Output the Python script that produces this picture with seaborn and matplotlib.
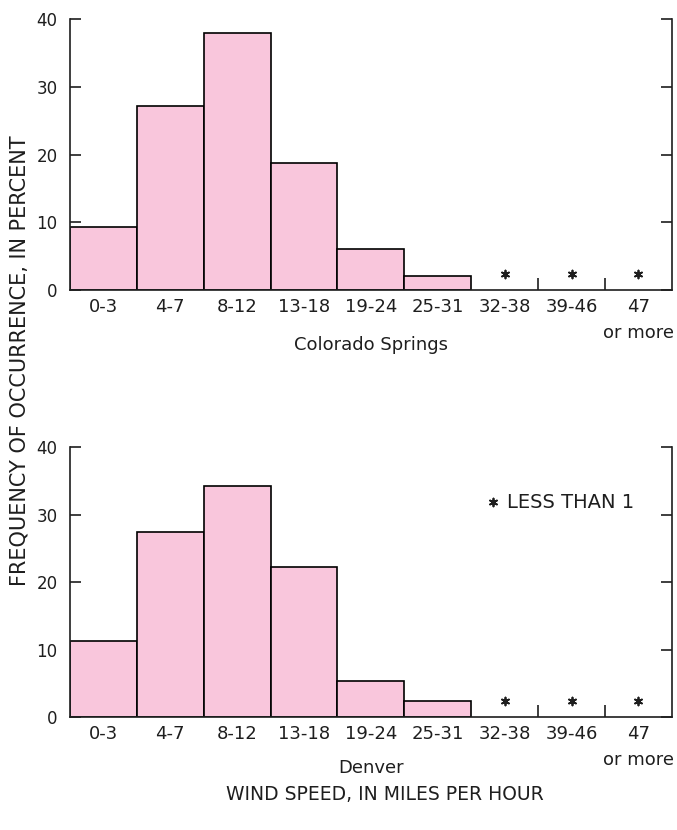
import matplotlib

matplotlib.use("Agg")

import matplotlib.pyplot as plt
import numpy as np
import pandas as pd
import seaborn as sns

# wind speed classes (mph) and percent frequency per station
wind_bins = ["0-3", "4-7", "8-12", "13-18", "19-24", "25-31", "32-38", "39-46", "47"]
bin_labels = ["0-3", "4-7", "8-12", "13-18", "19-24", "25-31", "32-38", "39-46", "47\nor more"]
colorado_springs = [9.3, 27.2, 37.9, 18.8, 6.0, 2.1, np.nan, np.nan, np.nan]
denver = [11.2, 27.4, 34.3, 22.2, 5.3, 2.4, np.nan, np.nan, np.nan]
less_than_one = ["32-38", "39-46", "47"]
y_ticks = [0, 10, 20, 30, 40]

BAR_COLOR = "#f9c6dc"
INK = "#1e1e1e"
STAR = (6, 2, 0)

sns.set_theme(style="white")
plt.rcParams["font.family"] = ["DejaVu Sans"]


def draw_panel(ax, values, station, label_y):
    data = pd.DataFrame({"bin": wind_bins, "pct": values})
    sns.barplot(
        data=data,
        x="bin",
        y="pct",
        order=wind_bins,
        width=1.0,
        color=BAR_COLOR,
        saturation=1,
        edgecolor="black",
        linewidth=1.2,
        errorbar=None,
        ax=ax,
    )

    # asterisks mark classes with less than 1 percent
    star_x = [wind_bins.index(b) for b in less_than_one]
    ax.scatter(star_x, [2.4] * len(star_x), marker=STAR, s=32, color=INK, linewidths=1.3, zorder=3)

    ax.set_xlim(-0.5, len(wind_bins) - 0.5)
    ax.set_ylim(0, 40)
    ax.set_yticks(y_ticks)
    ax.set_xticks(range(len(wind_bins)))
    ax.set_xticklabels(bin_labels, fontsize=13, color=INK)
    ax.get_xticklabels()[-1].set_linespacing(1.55)
    ax.set_yticklabels([str(t) for t in y_ticks], fontsize=12, color=INK)
    ax.set_xticks([6.5, 7.5], minor=True)

    ax.tick_params(axis="x", which="major", length=0, pad=6)
    ax.tick_params(axis="x", which="minor", direction="in", length=9, width=1.2, bottom=True, color=INK)
    ax.tick_params(axis="y", which="major", direction="in", length=8, width=1.2,
                   left=True, right=True, labelright=False, pad=9, color=INK)

    ax.spines["top"].set_visible(False)
    for side in ["left", "right", "bottom"]:
        ax.spines[side].set_linewidth(1.2)
        ax.spines[side].set_color(INK)

    ax.set_ylabel("")
    ax.set_xlabel(station, fontsize=13, color=INK, va="center")
    ax.xaxis.set_label_coords(0.5, label_y)


fig = plt.figure(figsize=(6.77, 8.30), dpi=100)
ax_top = fig.add_axes([0.1034, 0.6506, 0.889, 0.3265])
ax_bottom = fig.add_axes([0.1034, 0.1361, 0.889, 0.3253])

draw_panel(ax_top, colorado_springs, "Colorado Springs", -0.203)
draw_panel(ax_bottom, denver, "Denver", -0.189)

ax_bottom.scatter([0.703], [0.796], marker=STAR, s=32, color=INK, linewidths=1.3,
                  transform=ax_bottom.transAxes, clip_on=False)
ax_bottom.text(0.726, 0.796, "LESS THAN 1", transform=ax_bottom.transAxes,
               fontsize=14, color=INK, va="center", ha="left")

fig.text(20 / 677, 1 - 361 / 830, "FREQUENCY OF OCCURRENCE, IN PERCENT",
         rotation=90, fontsize=15, color=INK, ha="center", va="center")
fig.text(385 / 677, 1 - 794 / 830, "WIND SPEED, IN MILES PER HOUR",
         fontsize=13.5, color=INK, ha="center", va="center")

fig.savefig("out.png", dpi=100)
plt.close(fig)
